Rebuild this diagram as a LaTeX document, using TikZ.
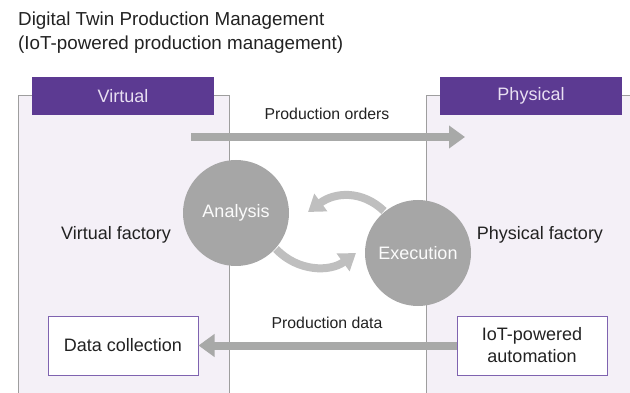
\documentclass[tikz,border=0pt]{standalone}
\usepackage{fontspec}
\setmainfont{Liberation Sans}
\usetikzlibrary{arrows.meta}
\definecolor{hdr}{HTML}{5C3A92}
\definecolor{hdrtxt}{HTML}{E8DFF2}
\definecolor{panel}{HTML}{F4F0F7}
\definecolor{pborder}{HTML}{9E9E9E}
\definecolor{agray}{HTML}{A8A9A8}
\definecolor{cgray}{HTML}{A6A6A6}
\definecolor{lgray}{HTML}{BFBFBF}
\definecolor{boxb}{HTML}{7F63B0}
\definecolor{txt}{HTML}{222222}
\tikzset{
  hdrbox/.style={fill=hdr, text=hdrtxt, minimum width=182pt, minimum height=38pt, inner sep=0pt, font=\fontsize{18}{20}\selectfont},
  circ/.style={circle, fill=cgray, minimum size=106pt, inner sep=0pt, text=white!95!cgray, font=\fontsize{18}{20}\selectfont},
  wbox/.style={draw=boxb, line width=1pt, fill=white, minimum width=150pt, minimum height=59pt, inner sep=0pt, align=center, text=txt, font=\fontsize{18}{22}\selectfont},
  lbl/.style={text=txt, font=\fontsize{18}{20}\selectfont},
  slbl/.style={text=txt, font=\fontsize{15.8}{18}\selectfont},
  bigarrow/.style={draw=agray, line width=8pt, -{Triangle[width=22pt,length=16pt]}},
  curvarrow/.style={draw=lgray, line width=8pt, -{Triangle[width=21pt,length=16pt]}},
}
\begin{document}
\begin{tikzpicture}[x=1pt,y=-1pt]
\useasboundingbox (0,0) rectangle (630,393);
% title
\node[anchor=base west, inner sep=0pt, text=txt, font=\fontsize{18.8}{22}\selectfont] (t1) at (18,26) {Digital Twin Production Management};
\node[anchor=base west, inner sep=0pt, text=txt, font=\fontsize{18.8}{22}\selectfont] (t2) at (18,50) {(IoT-powered production management)};
% panels
\fill[panel] (18,96) rectangle (229,393);
\draw[pborder, line width=1pt] (18,393) -- (18,96) -- (229,96) -- (229,393);
\fill[panel] (426,96) rectangle (630,393);
\draw[pborder, line width=1pt] (426,393) -- (426,96) -- (630,96);
% headers
\node[hdrbox] (virt) at (123,96) {Virtual};
\node[hdrbox] (phys) at (531,96) {Physical};
% production orders
\coordinate (poS) at (191,137);
\coordinate (poE) at (465,137);
\draw[bigarrow] (poS) -- (poE);
\node[slbl] (pol) at (327,114) {Production orders};
% curved arrows
\coordinate (uS) at (384,211);
\coordinate (uE) at (308,212);
\coordinate (lS) at (276,249);
\coordinate (lE) at (356,253);
\draw[curvarrow] (uS) .. controls (362,190) and (335,192) .. (uE);
\draw[curvarrow] (lS) .. controls (298,272) and (330,272) .. (lE);
% circles
\node[circ] (an) at (236,213) {Analysis};
\node[circ] (ex) at (418,253) {Execution};
% side labels
\node[lbl] (vf) at (116,235) {Virtual factory};
\node[lbl] (pf) at (540,235) {Physical factory};
% boxes
\node[wbox] (dc) at (123,345.5) {Data collection};
\node[wbox] (iot) at (532,345.5) {IoT-powered\\automation};
\draw[bigarrow] (iot.west) -- (dc.east);
\node[slbl] (pdl) at (327,323) {Production data};
\end{tikzpicture}
\end{document}
